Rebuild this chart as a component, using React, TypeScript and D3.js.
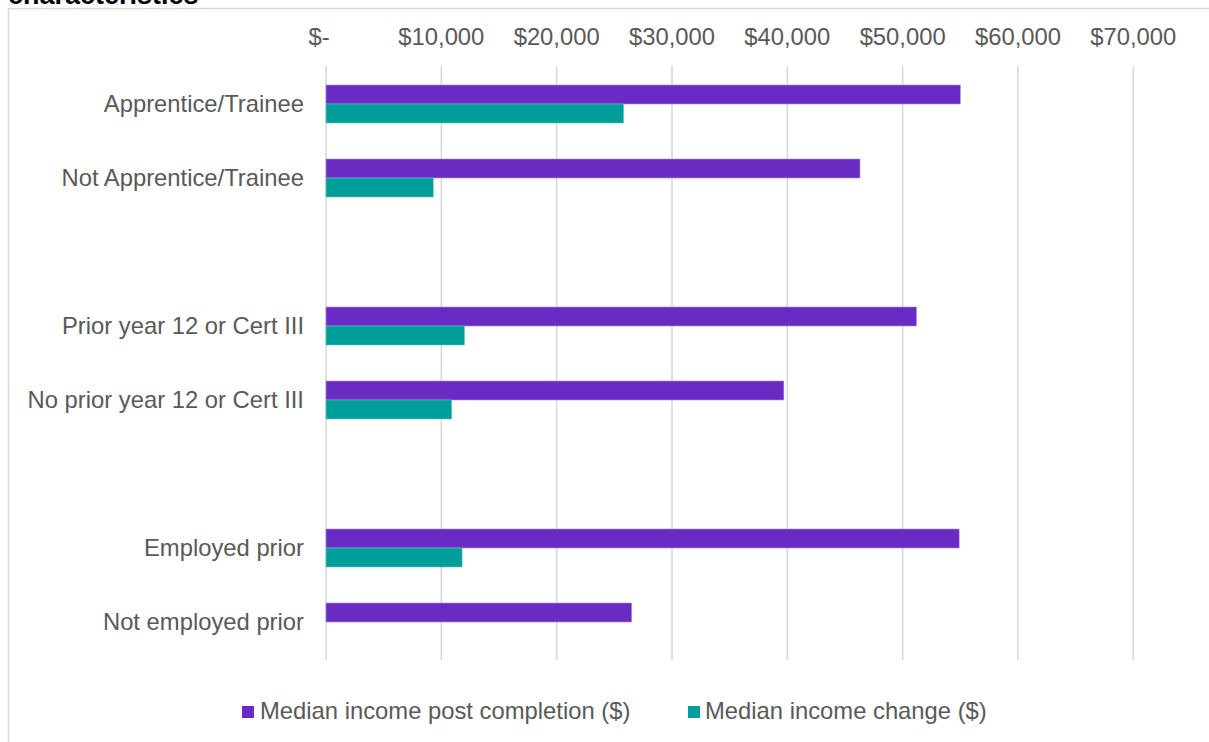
import React from "react";
import * as d3 from "d3";

const categories = [
  "Apprentice/Trainee",
  "Not Apprentice/Trainee",
  "",
  "Prior year 12 or Cert III",
  "No prior year 12 or Cert III",
  "",
  "Employed prior",
  "Not employed prior",
];
const incomePost: (number | null)[] = [55000, 46300, null, 51200, 39700, null, 54900, 26500];
const incomeChange: (number | null)[] = [25800, 9300, null, 12000, 10900, null, 11800, null];
const tickValues = [0, 10000, 20000, 30000, 40000, 50000, 60000, 70000];
const tickLabels = ["$-", "$10,000", "$20,000", "$30,000", "$40,000", "$50,000", "$60,000", "$70,000"];
const seriesNames = ["Median income post completion ($)", "Median income change ($)"];

const W = 1209;
const H = 742;
const PURPLE = "#6A2BC4";
const TEAL = "#009E9A";
const GRID = "#d9d9d9";
const TEXT = "#595959";
const FONT = "Arial, 'Liberation Sans', sans-serif";

export default function App() {
  const x = d3.scaleLinear().domain([0, 70000]).range([326, 1133.3]);
  const y = d3
    .scaleBand<number>()
    .domain(categories.map((_, i) => i))
    .range([67, 659]);
  const barH = 19;

  return (
    <svg
      width={W}
      height={H}
      style={{ position: "absolute", left: 0, top: 0, background: "#fff" }}
      fontFamily={FONT}
    >
      <rect x={0} y={0} width={W} height={H} fill="#fff" />
      <text x={8} y={4} fontSize={27} fontWeight="bold" fill="#000">
        characteristics
      </text>
      <rect x={8.5} y={8.5} width={W + 20} height={H + 20} fill="none" stroke={GRID} strokeWidth={1.5} />

      {tickValues.map((v, i) => (
        <g key={v}>
          <line x1={x(v)} x2={x(v)} y1={66} y2={660} stroke={GRID} strokeWidth={1.6} />
          <text
            x={x(v) + (v === 0 ? -7 : 0)}
            y={45}
            textAnchor="middle"
            fontSize={23.8}
            fill={TEXT}
          >
            {tickLabels[i]}
          </text>
        </g>
      ))}

      {categories.map((c, i) => {
        const cy = (y(i) as number) + y.bandwidth() / 2;
        const p = incomePost[i];
        const t = incomeChange[i];
        return (
          <g key={i}>
            {c && (
              <text x={304} y={cy} dy="0.35em" textAnchor="end" fontSize={23.8} fill={TEXT}>
                {c}
              </text>
            )}
            {p != null && (
              <rect
                x={x(0)}
                y={cy - barH}
                width={x(p) - x(0)}
                height={barH}
                fill={PURPLE}
                stroke="#a78bdc"
                strokeWidth={0.6}
              />
            )}
            {t != null && (
              <rect
                x={x(0)}
                y={cy}
                width={x(t) - x(0)}
                height={barH}
                fill={TEAL}
                stroke="#5fc6c2"
                strokeWidth={0.6}
              />
            )}
          </g>
        );
      })}

      <g>
        <rect x={242} y={706} width={12} height={12} fill={PURPLE} />
        <text x={260} y={719} fontSize={23.8} fill={TEXT}>
          {seriesNames[0]}
        </text>
        <rect x={688} y={706} width={12} height={12} fill={TEAL} />
        <text x={705} y={719} fontSize={23.8} fill={TEXT}>
          {seriesNames[1]}
        </text>
      </g>
    </svg>
  );
}
